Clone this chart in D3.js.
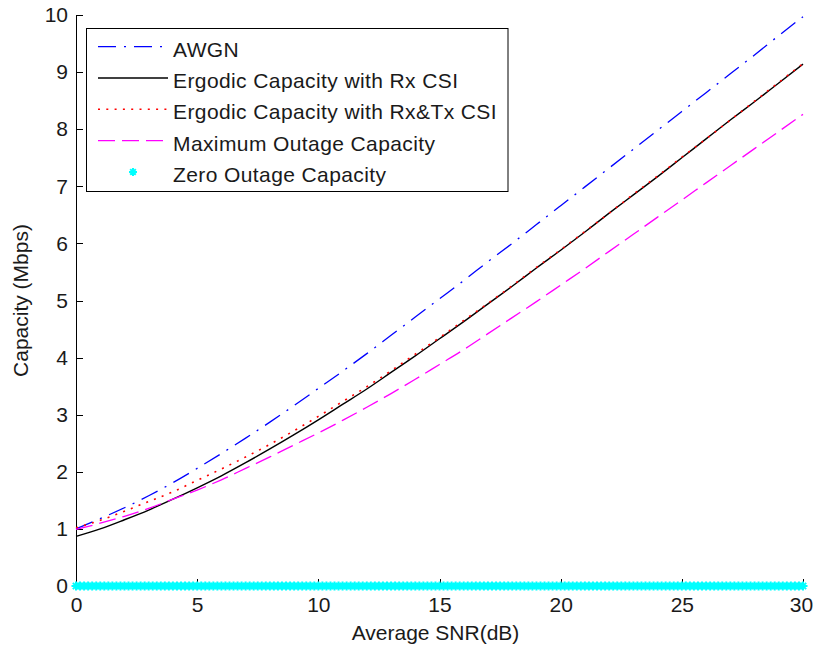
<!DOCTYPE html>
<html lang="en">
<head>
<meta charset="UTF-8">
<title>Capacity vs Average SNR</title>
<script src="https://d3js.org/d3.v7.min.js"></script>
<style>
    body { margin: 0; background: #fff; }
    svg { display: block; font-family: "Liberation Sans", Arial, sans-serif; }
    .axis path, .axis line { stroke: #000; stroke-width: 1; shape-rendering: crispEdges; }
    .axis text { font-size: 21px; fill: #1a1a1a; font-family: "Liberation Sans", Arial, sans-serif; }
    .label { font-size: 21px; fill: #1a1a1a; }
    .legend text { font-size: 21px; fill: #1a1a1a; letter-spacing: 0.4px; }
</style>
</head>
<body>
<div id="chart"></div>
<script>
// read-off points (dB)
const snrDb = [0, 1, 2, 3, 4, 5, 6, 7, 8, 9, 10, 11, 12, 13, 14, 15,
    16, 17, 18, 19, 20, 21, 22, 23, 24, 25, 26, 27, 28, 29, 30];

// capacities in Mbps
const awgn = [1.00, 1.18, 1.37, 1.58, 1.81, 2.06, 2.32, 2.59, 2.87, 3.16, 3.46,
    3.76, 4.07, 4.39, 4.71, 5.03, 5.35, 5.68, 6.00, 6.33, 6.66,
    6.99, 7.32, 7.65, 7.98, 8.31, 8.64, 8.97, 9.30, 9.64, 9.97];
const ergodicRx = [0.87, 1.00, 1.16, 1.33, 1.52, 1.72, 1.93, 2.16, 2.40, 2.65, 2.91,
    3.18, 3.45, 3.74, 4.03, 4.33, 4.63, 4.94, 5.25, 5.57, 5.88,
    6.20, 6.53, 6.85, 7.17, 7.50, 7.83, 8.16, 8.48, 8.81, 9.14];
const ergodicRxTx = [1.02, 1.15, 1.31, 1.48, 1.65, 1.85, 2.05, 2.26, 2.48, 2.72, 2.97,
    3.23, 3.49, 3.77, 4.06, 4.35, 4.65, 4.95, 5.26, 5.58, 5.89,
    6.21, 6.53, 6.86, 7.18, 7.51, 7.83, 8.16, 8.49, 8.82, 9.15];
const maxOutage = [0.99, 1.10, 1.22, 1.36, 1.52, 1.68, 1.86, 2.06, 2.26, 2.47, 2.68,
    2.90, 3.13, 3.37, 3.62, 3.88, 4.14, 4.42, 4.70, 4.98, 5.27,
    5.56, 5.86, 6.16, 6.46, 6.76, 7.06, 7.36, 7.66, 7.96, 8.26];

// zero outage capacity sits on 0 at every simulated SNR step
const zeroSnrDb = d3.range(0, 30.001, 1 / 6);
const zeroOutage = zeroSnrDb.map(() => 0);

const xTicks = [0, 5, 10, 15, 20, 25, 30];
const yTicks = [0, 1, 2, 3, 4, 5, 6, 7, 8, 9, 10];

const legendNames = ["AWGN", "Ergodic Capacity with Rx CSI", "Ergodic Capacity with Rx&Tx CSI",
    "Maximum Outage Capacity", "Zero Outage Capacity"];

let margin = { top: 15, right: 10, bottom: 64, left: 76 },
    width = 813 - margin.left - margin.right,
    height = 650 - margin.top - margin.bottom;

let svg = d3.select("#chart")
    .append("svg")
    .attr("width", 813)
    .attr("height", 650);

let g = svg.append("g")
    .attr("transform", `translate(${margin.left},${margin.top})`);

let x = d3.scaleLinear().domain([0, 30]).range([0, width]);
let y = d3.scaleLinear().domain([0, 10]).range([height, 0]);

// axes, ticks pointing inward
g.append("g")
    .attr("class", "axis")
    .call(d3.axisLeft(y).tickValues(yTicks).tickSizeInner(-7).tickSizeOuter(0).tickPadding(8));

let xAxis = g.append("g")
    .attr("class", "axis")
    .attr("transform", `translate(0,${height})`)
    .call(d3.axisBottom(x).tickValues(xTicks).tickSizeInner(-7).tickSizeOuter(0).tickPadding(11));

// keep the last label inside the window
xAxis.selectAll(".tick text").filter(d => d === 30).attr("dx", "-2");

// curves
let series = [
    { values: awgn, color: "#0000ff", dash: "18,8,2,8", w: 1.3 },
    { values: ergodicRx, color: "#000000", dash: null, w: 1.4 },
    { values: ergodicRxTx, color: "#ff0000", dash: "2,6.3", w: 1.6 },
    { values: maxOutage, color: "#ff00ff", dash: "17,7", w: 1.3 }
];

let line = d3.line()
    .x((d, i) => x(snrDb[i]))
    .y(d => y(d))
    .curve(d3.curveMonotoneX);

series.forEach(s => {
    g.append("path")
        .datum(s.values)
        .attr("fill", "none")
        .attr("stroke", s.color)
        .attr("stroke-width", s.w)
        .attr("stroke-dasharray", s.dash)
        .attr("d", line);
});

// asterisk marker
function star(sel, r) {
    let d = r * 0.7;
    sel.append("path")
        .attr("d", `M${-r},0H${r}M0,${-r}V${r}M${-d},${-d}L${d},${d}M${-d},${d}L${d},${-d}`)
        .attr("stroke", "#00ffff")
        .attr("stroke-width", 2)
        .attr("fill", "none");
}

g.selectAll(".zero")
    .data(zeroOutage)
    .enter().append("g")
    .attr("class", "zero")
    .attr("transform", (d, i) => `translate(${x(zeroSnrDb[i])},${y(d)})`)
    .call(star, 4.5);

// axis labels
svg.append("text")
    .attr("class", "label")
    .attr("x", margin.left + width / 2 - 4)
    .attr("y", 640)
    .attr("text-anchor", "middle")
    .text("Average SNR(dB)");

svg.append("text")
    .attr("class", "label")
    .attr("transform", `translate(28,${margin.top + height / 2}) rotate(-90)`)
    .attr("text-anchor", "middle")
    .text("Capacity (Mbps)");

// legend
let legend = svg.append("g").attr("class", "legend");

legend.append("rect")
    .attr("x", 86.5)
    .attr("y", 28.5)
    .attr("width", 421.5)
    .attr("height", 163)
    .attr("fill", "#fff")
    .attr("stroke", "#000")
    .attr("stroke-width", 1);

legendNames.forEach((name, i) => {
    let ly = 46.7 + i * 31.3;
    if (i < 4) {
        legend.append("line")
            .attr("x1", 98).attr("x2", 168)
            .attr("y1", ly).attr("y2", ly)
            .attr("stroke", series[i].color)
            .attr("stroke-width", series[i].w)
            .attr("stroke-dasharray", series[i].dash);
    } else {
        legend.append("g")
            .attr("transform", `translate(133,${ly})`)
            .call(star, 4);
    }
    legend.append("text")
        .attr("x", 173)
        .attr("y", ly + 10)
        .text(name);
});
</script>
</body>
</html>
